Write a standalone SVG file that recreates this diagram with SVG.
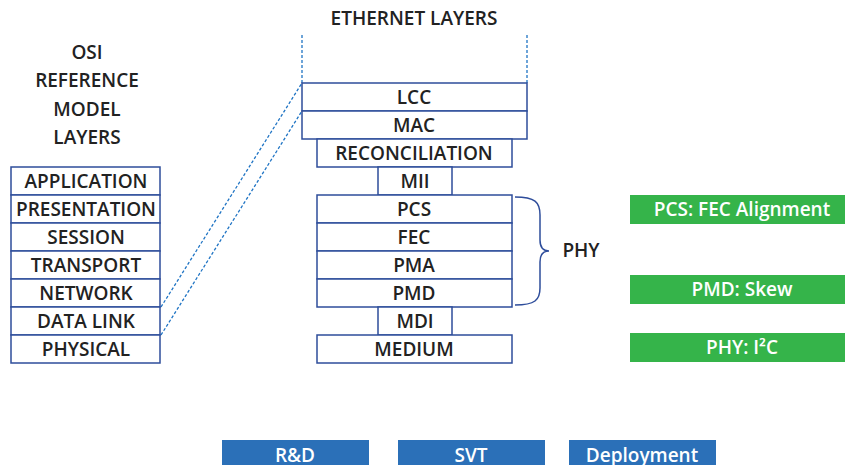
<svg xmlns="http://www.w3.org/2000/svg" width="845" height="465" viewBox="0 0 845 465">
<style>
.t{font-family:"Open Sans","Noto Sans",sans-serif;font-weight:600;font-size:19px;fill:#222;text-anchor:middle}
.w{fill:#fff}
.box{fill:#fff;stroke:#2e4d9b;stroke-width:1.5}
.dash{stroke:#1f74c4;stroke-width:1.3;stroke-dasharray:3 2;fill:none}
.green{fill:#35b44a}
.blue{fill:#2b70b8}
</style>
<text class="t" x="414" y="25">ETHERNET LAYERS</text>
<g id="osi-title">
<text class="t" x="87" y="59">OSI</text>
<text class="t" x="87" y="87">REFERENCE</text>
<text class="t" x="87" y="116">MODEL</text>
<text class="t" x="87" y="144">LAYERS</text>
</g>
<g id="connectors">
<line class="dash" x1="302" y1="35" x2="302" y2="83"/>
<line class="dash" x1="527" y1="35" x2="527" y2="83"/>
<line class="dash" x1="161" y1="307" x2="302" y2="83"/>
<line class="dash" x1="161" y1="335" x2="302" y2="111"/>
<path d="M515,197 C535,197 540,202 540,215 L540,240 C540,247 543,251 549,251 C543,251 540,255 540,262 L540,288 C540,300 535,305 515,305" fill="none" stroke="#2e4d9b" stroke-width="1.5"/>
</g>
<g id="osi-application"><rect class="box" x="11" y="167" width="149" height="28"/><text class="t" x="86" y="188">APPLICATION</text></g>
<g id="osi-presentation"><rect class="box" x="11" y="195" width="149" height="28"/><text class="t" x="86" y="216">PRESENTATION</text></g>
<g id="osi-session"><rect class="box" x="11" y="223" width="149" height="28"/><text class="t" x="86" y="244">SESSION</text></g>
<g id="osi-transport"><rect class="box" x="11" y="251" width="149" height="28"/><text class="t" x="86" y="272">TRANSPORT</text></g>
<g id="osi-network"><rect class="box" x="11" y="279" width="149" height="28"/><text class="t" x="86" y="300">NETWORK</text></g>
<g id="osi-datalink"><rect class="box" x="11" y="307" width="149" height="28"/><text class="t" x="86" y="328">DATA LINK</text></g>
<g id="osi-physical"><rect class="box" x="11" y="335" width="149" height="28"/><text class="t" x="86" y="356">PHYSICAL</text></g>
<g id="eth-lcc"><rect class="box" x="302" y="83" width="225" height="28"/><text class="t" x="414" y="104">LCC</text></g>
<g id="eth-mac"><rect class="box" x="302" y="111" width="225" height="28"/><text class="t" x="414" y="132">MAC</text></g>
<g id="eth-reconciliation"><rect class="box" x="317" y="139" width="195" height="28"/><text class="t" x="414" y="160">RECONCILIATION</text></g>
<g id="eth-mii"><rect class="box" x="378" y="167" width="74" height="28"/><text class="t" x="415" y="188">MII</text></g>
<g id="eth-pcs"><rect class="box" x="317" y="195" width="195" height="28"/><text class="t" x="414" y="216">PCS</text></g>
<g id="eth-fec"><rect class="box" x="317" y="223" width="195" height="28"/><text class="t" x="414" y="244">FEC</text></g>
<g id="eth-pma"><rect class="box" x="317" y="251" width="195" height="28"/><text class="t" x="414" y="272">PMA</text></g>
<g id="eth-pmd"><rect class="box" x="317" y="279" width="195" height="28"/><text class="t" x="414" y="300">PMD</text></g>
<g id="eth-mdi"><rect class="box" x="378" y="307" width="74" height="28"/><text class="t" x="415" y="328">MDI</text></g>
<g id="eth-medium"><rect class="box" x="317" y="335" width="195" height="28"/><text class="t" x="414" y="356">MEDIUM</text></g>
<g id="phy-label"><text class="t" x="581" y="257">PHY</text></g>
<g id="tag-pcs"><rect class="green" x="630" y="195" width="215" height="29"/><text class="t w" x="742" y="216">PCS: FEC Alignment</text></g>
<g id="tag-pmd"><rect class="green" x="630" y="275" width="215" height="29"/><text class="t w" x="742" y="296">PMD: Skew</text></g>
<g id="tag-phy"><rect class="green" x="630" y="333" width="215" height="29"/><text class="t w" x="742" y="354">PHY: I²C</text></g>
<g id="rd"><rect class="blue" x="222" y="440" width="147" height="25"/><text class="t w" x="295" y="462">R&amp;D</text></g>
<g id="svt"><rect class="blue" x="398" y="440" width="147" height="25"/><text class="t w" x="471" y="462">SVT</text></g>
<g id="deployment"><rect class="blue" x="569" y="440" width="147" height="25"/><text class="t w" x="642" y="462">Deployment</text></g>
</svg>
